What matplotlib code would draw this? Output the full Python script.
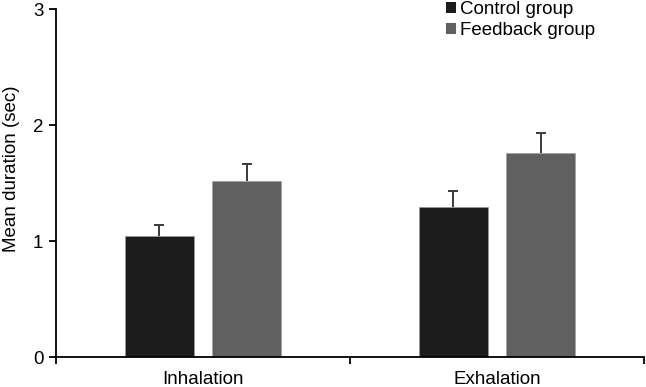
import numpy as np
import matplotlib.pyplot as plt
from matplotlib.patches import Patch

plt.rcParams['font.family'] = ['Liberation Sans', 'DejaVu Sans']

# --- Data ---
phases = ["Inhalation", "Exhalation"]
groups = ["Control group", "Feedback group"]
control_mean = [1.04, 1.29]
control_err = [0.10, 0.14]
feedback_mean = [1.52, 1.76]
feedback_err = [0.14, 0.17]
colors = ["#1c1c1c", "#606060"]

# --- Plot ---
fig = plt.figure(figsize=(6.46, 3.87), dpi=100)
ax = fig.add_axes([56 / 646, 1 - 357 / 387, 588 / 646, 348 / 387])

x = np.arange(len(phases))
w = 0.235
off = 0.148
fs = 13.5
for pos, mean, err, c in [(x - off, control_mean, control_err, colors[0]),
                          (x + off, feedback_mean, feedback_err, colors[1])]:
    bc = ax.bar(pos, mean, w, color=c, edgecolor="#9a9a9a", linewidth=0.4,
                yerr=[np.zeros(len(pos)), err], ecolor="#3a3a3a",
                error_kw=dict(elinewidth=1.4, capsize=3.5, capthick=1.4))
    # hide the lower caps (one-sided error bars)
    caps = bc.errorbar.lines[1]
    caps[0].set_visible(False)

ax.set_xlim(-0.5, 1.5)
ax.set_ylim(0, 3)
ax.set_yticks([0, 1, 2, 3])
ax.set_xticks(x)
ax.set_xticklabels(phases)
ax.set_xticks([-0.5, 0.5, 1.5], minor=True)
ax.tick_params(axis="x", which="major", length=0, pad=10, labelsize=fs)
ax.tick_params(axis="x", which="minor", length=5, width=1.3, direction="out")
ax.tick_params(axis="y", length=5, width=1.3, pad=4, labelsize=fs)
ax.set_ylabel("Mean duration (sec)", fontsize=fs)
ax.yaxis.set_label_coords(-0.062, 0.54)

for s in ["top", "right"]:
    ax.spines[s].set_visible(False)
for s in ["left", "bottom"]:
    ax.spines[s].set_linewidth(1.3)

handles = [Patch(facecolor=c, edgecolor="none") for c in colors]
fig.legend(handles, groups, loc="upper left", bbox_to_anchor=(446 / 646, 0.997),
           frameon=False, fontsize=fs, handlelength=0.55, handleheight=0.55,
           handletextpad=0.2, labelspacing=0.2, borderpad=0, borderaxespad=0)

fig.savefig("out.png", dpi=100)
